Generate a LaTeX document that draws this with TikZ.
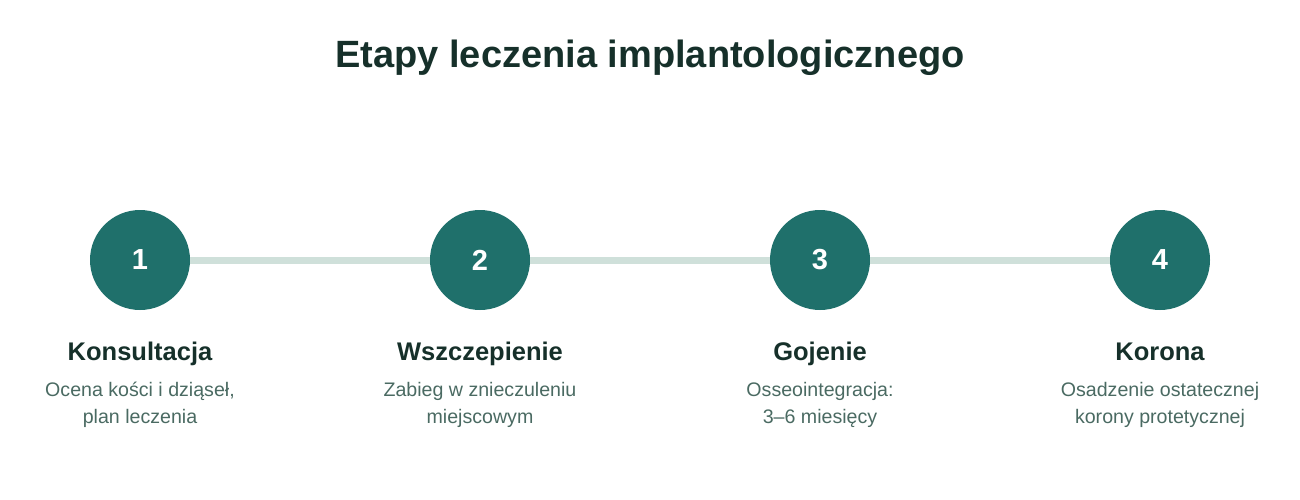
\documentclass[tikz,border=0pt]{standalone}
\usepackage{fontspec}
\setmainfont{Liberation Sans}
\definecolor{teal}{HTML}{1F706B}
\definecolor{track}{HTML}{CFE0DA}
\definecolor{dark}{HTML}{16302A}
\definecolor{muted}{HTML}{4A6A62}
\begin{document}
\begin{tikzpicture}[x=1pt,y=-1pt,
  stepcircle/.style={circle,fill=teal,minimum size=100pt,inner sep=0pt},
  stepnum/.style={text=white,font=\fontsize{29}{29}\selectfont\bfseries},
  steptitle/.style={text=dark,font=\fontsize{25.5}{30}\selectfont\bfseries,anchor=base},
  stepdesc/.style={text=muted,font=\fontsize{19.6}{27}\selectfont,align=center,anchor=north},
  trackline/.style={draw=track,line width=7pt}]
\useasboundingbox (0,0) rectangle (1300,500);
\node[text=dark,font=\fontsize{38}{42}\selectfont\bfseries,anchor=base] (title) at (650,68) {Etapy leczenia implantologicznego};
\node[stepcircle] (c1) at (140,260) {};
\node[stepcircle] (c2) at (480,260) {};
\node[stepcircle] (c3) at (820,260) {};
\node[stepcircle] (c4) at (1160,260) {};
\draw[trackline] (c1) -- (c2);
\draw[trackline] (c2) -- (c3);
\draw[trackline] (c3) -- (c4);
\foreach \i in {1,2,3,4} {
  \node[stepnum] (n\i) at (c\i) {\i};
}
\node[steptitle] (t1) at (140,360) {Konsultacja};
\node[steptitle] (t2) at (480,360) {Wszczepienie};
\node[steptitle] (t3) at (820,360) {Gojenie};
\node[steptitle] (t4) at (1160,360) {Korona};
\node[stepdesc] (d1) at (140,379) {Ocena kości i dziąseł,\\plan leczenia};
\node[stepdesc] (d2) at (480,379) {Zabieg w znieczuleniu\\miejscowym};
\node[stepdesc] (d3) at (820,379) {Osseointegracja:\\3–6 miesięcy};
\node[stepdesc] (d4) at (1160,379) {Osadzenie ostatecznej\\korony protetycznej};
\end{tikzpicture}
\end{document}
